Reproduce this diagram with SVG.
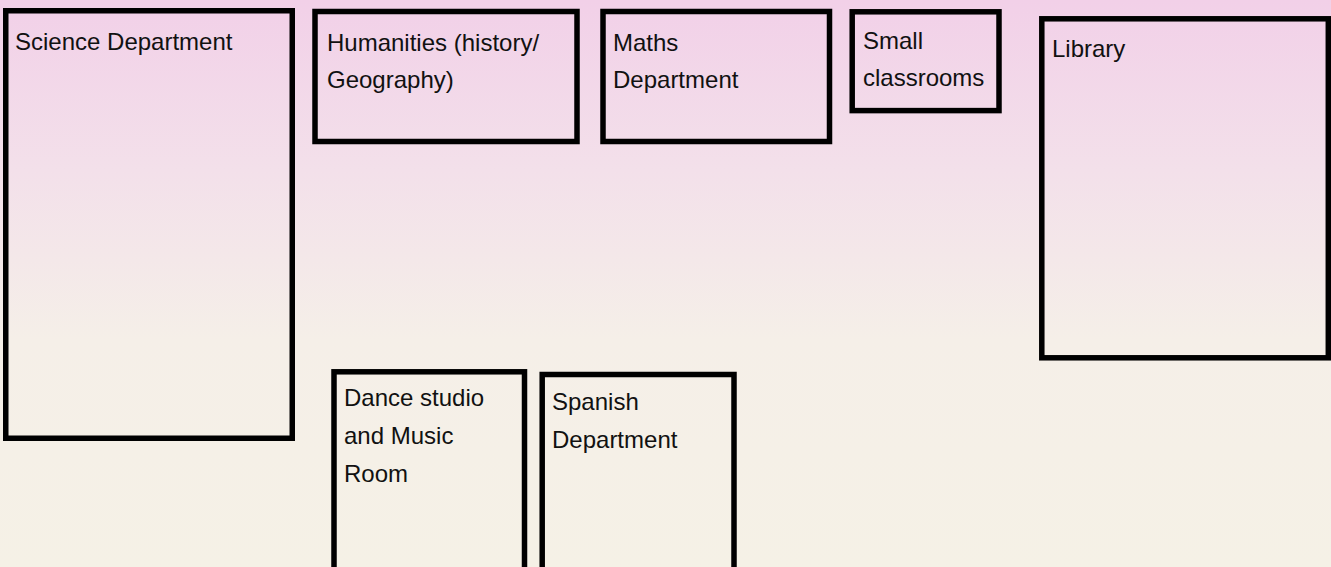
<svg xmlns="http://www.w3.org/2000/svg" width="1331" height="567" viewBox="0 0 1331 567">
<defs>
<linearGradient id="bg" x1="0" y1="0" x2="0" y2="1">
<stop offset="0" stop-color="#F2D0E8"/>
<stop offset="0.3" stop-color="#F3E0EA"/>
<stop offset="0.6" stop-color="#F5EFE8"/>
<stop offset="1" stop-color="#F5F1E6"/>
</linearGradient>
</defs>
<style>
.room{fill:none;stroke:#000;stroke-width:5.5}
.lbl{font-family:"Liberation Sans",Arial,sans-serif;font-size:24px;fill:#111}
</style>
<rect x="0" y="0" width="1331" height="567" fill="url(#bg)"/>
<g id="science"><rect class="room" x="5.75" y="10.75" width="286.5" height="427.5"/><text class="lbl" x="15" y="50">Science Department</text></g>
<g id="humanities"><rect class="room" x="315" y="11.5" width="262" height="130"/><text class="lbl" x="327" y="51">Humanities (history/</text><text class="lbl" x="327" y="88">Geography)</text></g>
<g id="maths"><rect class="room" x="603" y="11.5" width="226.5" height="130"/><text class="lbl" x="613" y="51">Maths</text><text class="lbl" x="613" y="88">Department</text></g>
<g id="small"><rect class="room" x="852.2" y="11.8" width="146.8" height="98.8"/><text class="lbl" x="863" y="49">Small</text><text class="lbl" x="863" y="86">classrooms</text></g>
<g id="library"><rect class="room" x="1041.8" y="18.8" width="286.5" height="339"/><text class="lbl" x="1052" y="57">Library</text></g>
<g id="dance"><rect class="room" x="334" y="371.8" width="190.5" height="220"/><text class="lbl" x="344" y="406">Dance studio</text><text class="lbl" x="344" y="444">and Music</text><text class="lbl" x="344" y="482">Room</text></g>
<g id="spanish"><rect class="room" x="542.2" y="374.5" width="191.8" height="220"/><text class="lbl" x="552" y="410">Spanish</text><text class="lbl" x="552" y="448">Department</text></g>
<g id="connectors"></g>
</svg>
